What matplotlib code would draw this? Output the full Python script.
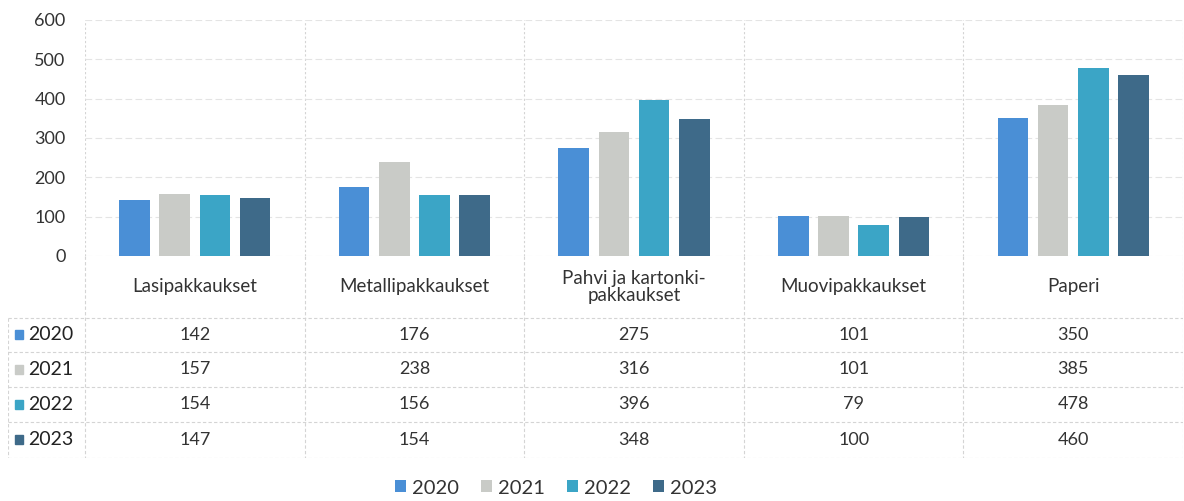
import matplotlib.pyplot as plt
from matplotlib.patches import Rectangle

plt.rcParams['font.family'] = ['Lato', 'DejaVu Sans']

categories = ['Lasipakkaukset', 'Metallipakkaukset', 'Pahvi ja kartonki-\npakkaukset',
              'Muovipakkaukset', 'Paperi']
years = ['2020', '2021', '2022', '2023']
v2020 = [142, 176, 275, 101, 350]
v2021 = [157, 238, 316, 101, 385]
v2022 = [154, 156, 396, 79, 478]
v2023 = [147, 154, 348, 100, 460]
series = [v2020, v2021, v2022, v2023]
colors = ['#4a8fd6', '#c9cbc7', '#3ba5c6', '#3e6a89']

W, H = 1184, 501
fig = plt.figure(figsize=(W / 100, H / 100), dpi=100)

# bar area
left, right = 85, 1183
ax = fig.add_axes([left / W, 1 - 256 / H, (right - left) / W, (256 - 20) / H])
n = len(categories)
step, width = 0.183, 0.14
for k, vals in enumerate(series):
    xs = [i + (k - 1.5) * step for i in range(n)]
    ax.bar(xs, vals, width=width, color=colors[k], label=years[k], zorder=3)
ax.set_xlim(-0.5, n - 0.5)
ax.set_ylim(0, 600)
ax.set_yticks(range(0, 601, 100))
ax.set_xticks([])
ax.tick_params(axis='y', length=0, labelsize=13, colors='#333333', pad=14)
ax.grid(axis='y', color='#e4e4e4', linestyle=(0, (6, 3)), linewidth=0.8, zorder=0)
for i in range(n + 1):
    ax.axvline(i - 0.5, color='#d4d4d4', linestyle=(0, (2, 2)), linewidth=0.8, zorder=1)
for s in ax.spines.values():
    s.set_visible(False)

# table area below the bars
tax = fig.add_axes([8 / W, 1 - 458 / H, (right - 8) / W, (458 - 256) / H])
x0 = -0.5 - (left - 8) / ((right - left) / n)
tax.set_xlim(x0, n - 0.5)
tax.set_ylim(458, 256)
tax.axis('off')
line_kw = dict(color='#d4d4d4', linewidth=0.8, linestyle=(0, (3, 2)))
row_y = [318, 352, 387, 422, 458]
for y in row_y:
    tax.plot([x0, n - 0.5], [y, y], **line_kw)
for i in range(n + 1):
    tax.plot([i - 0.5, i - 0.5], [256, 458], **line_kw)
tax.plot([x0, x0], [318, 458], **line_kw)

for i, c in enumerate(categories):
    tax.text(i, 287, c, ha='center', va='center', fontsize=13.5, color='#333333',
             linespacing=1.0)
for k, vals in enumerate(series):
    yc = (row_y[k] + row_y[k + 1]) / 2
    tax.add_patch(Rectangle((x0 + 0.03, yc - 4.5), 0.04, 9, color=colors[k], clip_on=False))
    tax.text(x0 + 0.09, yc, years[k], ha='left', va='center', fontsize=14, color='#222222')
    for i, v in enumerate(vals):
        tax.text(i, yc, str(v), ha='center', va='center', fontsize=13, color='#333333')

handles, labels = ax.get_legend_handles_labels()
fig.legend(handles, labels, loc='center', bbox_to_anchor=(556 / W, 1 - 488 / H), ncol=4,
           frameon=False, fontsize=14.5, handlelength=0.55, handleheight=0.55,
           handletextpad=0.3, columnspacing=1.1, labelcolor='#333333')

fig.savefig('out.png', dpi=100)
